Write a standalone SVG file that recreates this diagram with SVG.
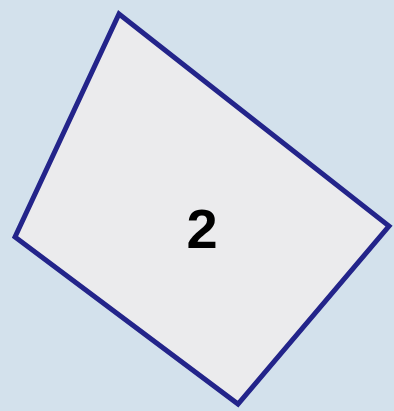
<svg xmlns="http://www.w3.org/2000/svg" width="394" height="411" viewBox="0 0 394 411">
<style>
.bg{fill:#d3e1ec}
.shape{fill:#ebebed;stroke:#23248a;stroke-width:5;stroke-linejoin:miter}
.lbl{font-family:"Liberation Sans",Arial,sans-serif;font-weight:bold;font-size:56px;fill:#000;text-anchor:middle}
</style>
<rect class="bg" x="0" y="0" width="394" height="411"/>
<g id="node2">
<polygon class="shape" points="119,14 389,226 238,404 15,237"/>
<text class="lbl" x="202" y="248">2</text>
</g>
<g id="connectors"/>
</svg>
